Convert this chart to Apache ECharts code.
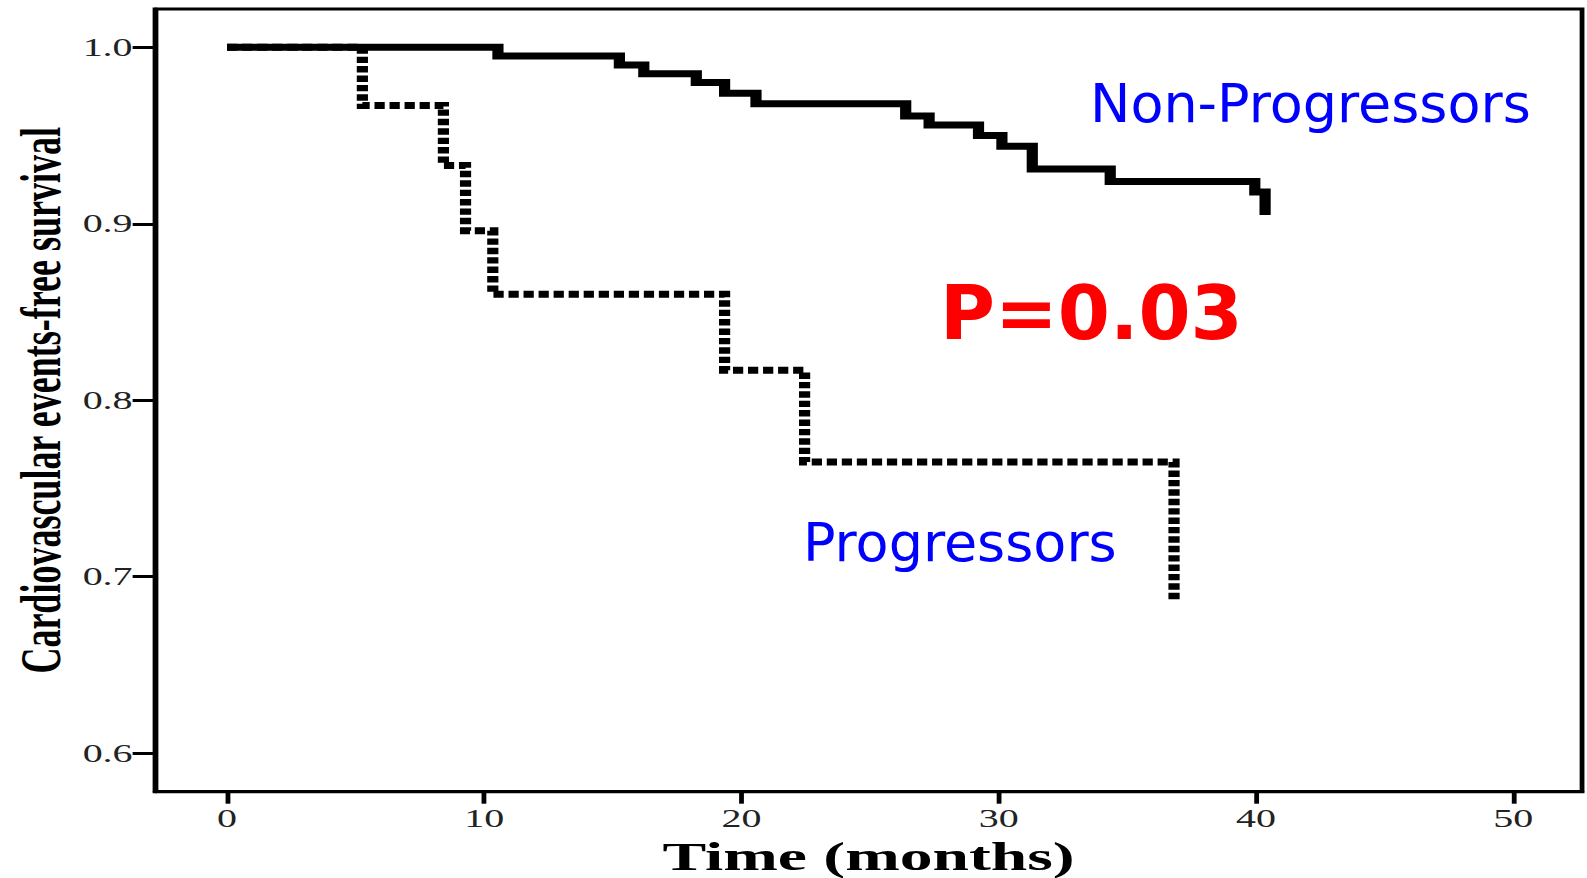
<!DOCTYPE html>
<html>
<head>
<meta charset="utf-8">
<title>Cardiovascular events-free survival</title>
<script src="https://cdn.jsdelivr.net/npm/echarts@6.0.0/dist/echarts.min.js"></script>
<style>
  html, body { margin: 0; padding: 0; background: #fff; overflow: hidden; width: 1587px; height: 878px; }
  #chart { height: 878px; transform-origin: 0 0; }
</style>
</head>
<body>
<div id="chart"></div>
<script>
// Kaplan-Meier step data: event times (months) and survival after each event
const nonProgTimes    = [0, 10.53, 15.25, 16.20, 18.24, 19.34, 20.56, 26.38, 27.29, 29.21, 30.12, 31.30, 34.33, 39.95, 40.35];
const nonProgSurvival = [1.0, 0.995, 0.990, 0.985, 0.980, 0.974, 0.968, 0.961, 0.956, 0.950, 0.944, 0.931, 0.924, 0.918, 0.905];

const progTimes    = [0, 5.26, 8.41, 9.27, 10.33, 19.34, 22.45, 36.81];
const progSurvival = [1.0, 0.967, 0.933, 0.896, 0.860, 0.817, 0.765, 0.687];

const groupNames = ['Non-Progressors', 'Progressors'];
const pValueText = 'P=0.03';

const xTicks = [0, 10, 20, 30, 40, 50];
const yTicks = [0.6, 0.7, 0.8, 0.9, 1.0];

// The plot is laid out on a narrower canvas and stretched horizontally,
// which gives the wide serif lettering and the heavier vertical strokes.
const PAGE_W = 1587;
const BASE_W = 992;
const STRETCH = PAGE_W / BASE_W;

const el = document.getElementById('chart');
el.style.width = BASE_W + 'px';
el.style.transform = 'scaleX(' + STRETCH + ')';

const chart = echarts.init(el, null, { renderer: 'svg', width: BASE_W, height: 878 });

const pairs = (ts, vs) => ts.map((t, i) => [t, vs[i]]);
const serif = '"Liberation Serif", "Times New Roman", serif';
const sans = '"DejaVu Sans", Verdana, sans-serif';

// Annotation text kept at natural proportions (undo the horizontal stretch)
function note(text, x, y, size, color, weight) {
  return {
    type: 'text',
    x: x,
    y: y,
    scaleX: 1 / STRETCH,
    z: 100,
    style: {
      text: text,
      fontFamily: sans,
      fontSize: size,
      fontWeight: weight,
      fill: color,
      align: 'left',
      verticalAlign: 'middle',
      textAlign: 'left',
      textVerticalAlign: 'middle'
    }
  };
}

const option = {
  animation: false,
  backgroundColor: '#ffffff',
  grid: {
    left: 96.9,
    right: 3.1,
    top: 9,
    bottom: 86.3,
    containLabel: false,
    outerBoundsMode: 'none',
    show: true,
    borderColor: '#000',
    borderWidth: 3,
    backgroundColor: 'transparent'
  },
  xAxis: {
    type: 'value',
    min: -2.8,
    max: 52.67,
    name: 'Time (months)',
    nameLocation: 'middle',
    nameGap: 44,
    nameMoveOverlap: false,
    nameTextStyle: { fontFamily: serif, fontWeight: 'bold', fontSize: 41, color: '#000' },
    axisLine: { show: true, onZero: false, lineStyle: { color: '#000', width: 3 } },
    axisTick: { show: true, customValues: xTicks, length: 12, lineStyle: { color: '#000', width: 3 } },
    axisLabel: {
      customValues: xTicks,
      margin: 14,
      fontFamily: serif,
      fontSize: 25,
      color: '#222',
      formatter: v => String(v)
    },
    splitLine: { show: false }
  },
  yAxis: {
    type: 'value',
    min: 0.5782,
    max: 1.0217,
    name: 'Cardiovascular events-free survival',
    nameLocation: 'middle',
    nameRotate: 90,
    nameGap: 54,
    nameMoveOverlap: false,
    nameTextStyle: { fontFamily: serif, fontWeight: 'bold', fontSize: 36, color: '#000' },
    axisLine: { show: true, onZero: false, lineStyle: { color: '#000', width: 3 } },
    axisTick: { show: true, customValues: yTicks, length: 14, lineStyle: { color: '#000', width: 3 } },
    axisLabel: {
      customValues: yTicks,
      margin: 14,
      fontFamily: serif,
      fontSize: 25,
      color: '#222',
      formatter: v => v.toFixed(1)
    },
    splitLine: { show: false }
  },
  series: [
    {
      name: groupNames[1],
      type: 'line',
      step: 'end',
      showSymbol: false,
      z: 2,
      data: pairs(progTimes, progSurvival),
      lineStyle: { color: '#000', width: 7, type: [6.4, 3.0], cap: 'butt', join: 'miter' }
    },
    {
      name: groupNames[0],
      type: 'line',
      step: 'end',
      showSymbol: false,
      z: 3,
      data: pairs(nonProgTimes, nonProgSurvival),
      lineStyle: { color: '#000', width: 7, type: 'solid', cap: 'butt', join: 'miter' }
    }
  ],
  graphic: [
    note(groupNames[0], 1090 / STRETCH, 103, 54, '#0000ff', 'normal'),
    note(groupNames[1], 803 / STRETCH, 542, 54, '#0000ff', 'normal'),
    note(pValueText, 940 / STRETCH, 313, 75, '#ff0000', 'bold')
  ]
};

chart.setOption(option);
</script>
</body>
</html>
